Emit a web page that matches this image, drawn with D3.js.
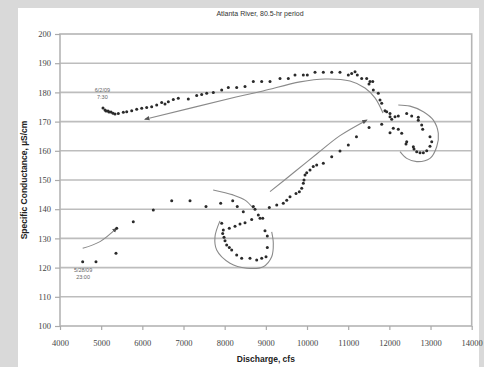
<!DOCTYPE html>
<html>
<head>
<meta charset="utf-8">
<script src="https://cdn.jsdelivr.net/npm/d3@7"></script>
<style>
html,body{margin:0;padding:0;background:#d9d9d9;}
svg{display:block;}
</style>
</head>
<body>
<svg id="chart" width="484" height="367"></svg>
<script>
// ---- data ----
const chartTitle = "Atlanta River, 80.5-hr period";
const xTitle = "Discharge, cfs";
const yTitle = "Specific Conductance, \u00b5S/cm";
const xTicks = [4000,5000,6000,7000,8000,9000,10000,11000,12000,13000,14000];
const yTicks = [100,110,120,130,140,150,160,170,180,190,200];

const discharge = [
 5044,5093,5117,5166,5190,5239,5287,5336,5416,5538,5620,5742,5863,5985,6106,6227,6349,6470,6550,6631,
 6752,6873,7116,7320,7442,7563,7724,7928,8088,8292,8494,8695,8899,9101,9344,9546,9708,9910,10007,10194,
 10396,10600,10801,11003,11085,11166,11222,11328,11450,11530,11596,11506,11610,11731,11773,11814,11894,11935,12016,12016,
 12057,12137,12217,12421,12542,12703,12703,12785,12810,12987,13029,12987,12907,12825,12745,12664,12599,12582,12421,12404,
 12300,12217,12096,12016,11814,11507,11201,11003,10801,10600,10396,10235,10152,10073,9992,9951,9927,9910,9871,9813,
 9733,9587,9507,9424,9264,9084,8924,8979,9035,9035,9004,8899,8778,8615,8413,8292,8170,8112,8049,8008,
 7984,7952,7928,7967,8112,8251,8372,8494,8656,8858,8817,8737,8695,8452,8306,8195,7903,7546,7158,6713,
 6266,5780,5377,5360,4874,4551
];
const conductance = [
 174.7,174.0,173.6,173.6,173.3,173.3,172.9,172.6,172.8,173.2,173.4,173.7,174.2,174.6,174.8,175.1,175.7,176.5,176.0,176.8,
 177.6,178.0,177.7,178.9,179.3,179.7,180.0,180.8,181.7,181.7,182.0,183.7,183.7,183.7,184.8,184.8,186.0,186.0,186.0,186.9,
 186.9,186.9,186.9,186.0,186.5,187.1,186.0,184.8,184.8,183.7,183.7,182.9,180.8,179.7,177.4,176.3,173.7,173.4,172.8,171.7,
 170.8,171.7,171.9,172.8,171.9,171.5,170.5,168.8,167.4,164.8,163.1,161.6,160.0,159.3,159.3,159.7,160.6,161.4,163.1,162.3,
 166.0,167.4,167.7,166.2,169.1,168.0,164.8,162.0,159.9,158.0,155.7,155.1,154.6,153.4,152.5,151.7,150.0,148.9,147.2,146.0,
 145.4,144.3,143.1,142.0,141.4,140.6,136.9,132.6,130.8,126.9,123.7,123.2,122.6,123.2,123.2,124.3,126.0,126.9,127.7,129.2,
 130.4,131.7,135.2,132.9,133.5,134.2,134.9,135.4,136.5,136.9,138.0,140.0,140.9,139.1,140.9,142.9,142.0,140.9,142.9,142.9,
 139.7,135.7,133.5,124.9,122.0,122.0
];

// hand-drawn annotation strokes (discharge, conductance)
const arrowLowX = [4551,4972,5377];
const arrowLowY = [126.6,128.9,133.5];
const arrowTopX = [11846,11651,11408,11044,10437,9830,8931,8275,6065];
const arrowTopY = [172.9,178.1,181.5,183.9,184.6,183.6,180.5,178.4,170.8];
const arrowRiseX = [9101,9709,10235,10801,11449];
const arrowRiseY = [146.0,152.9,158.9,165.2,170.5];
const arcX = [7720,8202,8494,8695];
const arcY = [146.6,144.9,143.1,140.3];
const loopLeftX = [7886,7765,7806,8129,8535,8938,9142,9181,9142];
const loopLeftY = [136.0,130.6,126.0,121.5,119.8,120.3,123.7,128.3,132.2];
const loopRightX = [12217,12502,12825,13068,13189,13150,12987,12664,12421,12259];
const loopRightY = [175.7,175.3,173.4,170.5,166.0,161.4,157.4,156.3,157.4,159.7];

const startLabel = ["6/2/09","7:30"];
const startLabelPos = [5030,180.3];
const endLabel = ["5/28/09","23:00"];
const endLabelPos = [4560,118.4];

// ---- drawing ----
const svg = d3.select("#chart");
svg.append("rect").attr("x",18).attr("y",8).attr("width",461).attr("height",359).attr("fill","#ffffff");

const x = d3.scaleLinear().domain([4000,14000]).range([60,471.7]);
const y = d3.scaleLinear().domain([100,200]).range([326,34]);

const g = svg.append("g");

// gridlines
g.selectAll("line.grid").data(yTicks.slice(1,-1)).join("line")
 .attr("x1",x(4000)).attr("x2",x(14000))
 .attr("y1",d=>y(d)).attr("y2",d=>y(d))
 .attr("stroke","#bdbdbd").attr("stroke-width",1.6);

// plot border
g.append("rect").attr("x",x(4000)).attr("y",y(200))
 .attr("width",x(14000)-x(4000)).attr("height",y(100)-y(200))
 .attr("fill","none").attr("stroke","#b5b5b5").attr("stroke-width",1.6);

// axes
const yAxis = d3.axisLeft(y).tickValues(yTicks).tickSize(5).tickPadding(4).tickFormat(d3.format("d"));
const xAxis = d3.axisBottom(x).tickValues(xTicks).tickSize(4).tickPadding(10).tickFormat(d3.format("d"));
const ya = svg.append("g").attr("transform",`translate(${x(4000)},0)`).call(yAxis);
const xa = svg.append("g").attr("transform",`translate(0,${y(100)})`).call(xAxis);
[ya,xa].forEach(a=>{
  a.select(".domain").remove();
  a.selectAll(".tick line").attr("stroke","#aaaaaa").attr("stroke-width",1.2);
  a.selectAll(".tick text").attr("fill","#444").style("font-family","Liberation Serif, serif").style("font-size","8.5px");
});

// annotation strokes
svg.append("defs").append("marker").attr("id","ah")
 .attr("viewBox","0 0 10 10").attr("refX",8).attr("refY",5)
 .attr("markerWidth",5).attr("markerHeight",5).attr("orient","auto")
 .append("path").attr("d","M0,1 L10,5 L0,9 Z").attr("fill","#555");

const line = d3.line().x(d=>x(d[0])).y(d=>y(d[1])).curve(d3.curveCatmullRom.alpha(0.5));
function stroke(xs,ys,arrow){
  const p = g.append("path").datum(xs.map((v,i)=>[v,ys[i]]))
   .attr("d",line).attr("fill","none").attr("stroke","#8a8a8a").attr("stroke-width",1.1);
  if(arrow) p.attr("marker-end","url(#ah)");
}
stroke(arrowLowX,arrowLowY,true);
stroke(arrowTopX,arrowTopY,true);
stroke(arrowRiseX,arrowRiseY,true);
stroke(arcX,arcY,false);
stroke(loopLeftX,loopLeftY,false);
stroke(loopRightX,loopRightY,false);

// points
g.selectAll("circle.pt").data(discharge.map((d,i)=>[d,conductance[i]])).join("circle")
 .attr("cx",d=>x(d[0])).attr("cy",d=>y(d[1])).attr("r",1.5).attr("fill","#2a2a2a");

// labels
function label(lines,pos){
  const t = svg.append("text").attr("x",x(pos[0])).attr("y",y(pos[1]))
   .attr("text-anchor","middle").attr("fill","#666")
   .style("font-family","Liberation Sans, Arial, sans-serif").style("font-size","5.5px");
  lines.forEach((s,i)=>t.append("tspan").attr("x",x(pos[0])).attr("dy",i?"1.3em":0).text(s));
}
label(startLabel,startLabelPos);
label(endLabel,endLabelPos);

svg.append("text").attr("x",260).attr("y",16).attr("text-anchor","middle")
 .attr("fill","#333").style("font-family","Liberation Sans, Arial, sans-serif").style("font-size","7px")
 .text(chartTitle);
svg.append("text").attr("x",(x(4000)+x(14000))/2).attr("y",362).attr("text-anchor","middle")
 .attr("fill","#222").style("font-family","Liberation Sans, Arial, sans-serif").style("font-size","8.5px").style("font-weight","bold")
 .text(xTitle);
svg.append("text").attr("transform",`translate(27,${(y(100)+y(200))/2}) rotate(-90)`).attr("text-anchor","middle")
 .attr("fill","#222").style("font-family","Liberation Sans, Arial, sans-serif").style("font-size","8.5px").style("font-weight","bold")
 .text(yTitle);
</script>
</body>
</html>
